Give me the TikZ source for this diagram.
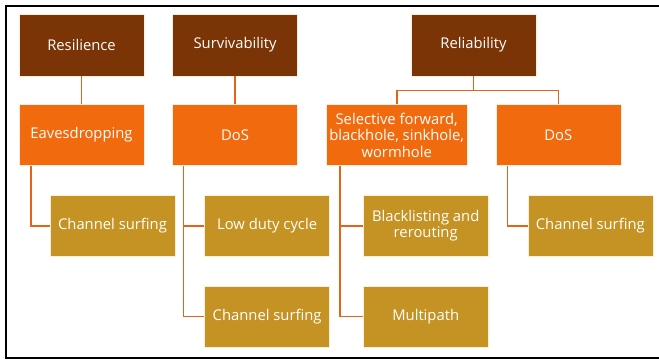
\documentclass[tikz,border=0pt]{standalone}
\usepackage{fontspec}
\setmainfont{Open Sans}
\usepackage{xcolor}
\usepackage{tikz}
\usetikzlibrary{positioning, calc}

\definecolor{topbrown}{HTML}{7A3406}
\definecolor{midorange}{HTML}{F26A0E}
\definecolor{lowgold}{HTML}{C59324}
\definecolor{linkorange}{HTML}{E0651A}

\begin{document}
\begin{tikzpicture}[
    x=1pt, y=1pt,
    font=\fontsize{14.8}{16.5}\selectfont,
    top/.style={rectangle, draw=white!85!orange, line width=0.6pt, fill=topbrown, text=white, align=center, minimum width=125pt, minimum height=62pt, inner sep=0.5pt},
    threat/.style={rectangle, draw=white!85!orange, line width=0.6pt, fill=midorange, text=white, align=center, minimum width=125pt, minimum height=61pt, inner sep=0.5pt},
    defence/.style={rectangle, draw=white!85!orange, line width=0.6pt, fill=lowgold, text=white, align=center, minimum width=125pt, minimum height=61pt, inner sep=0.5pt},
    link/.style={draw=linkorange, line width=1.6pt}
]

\useasboundingbox (0,0) rectangle (659,-360);
\draw[line width=2.5pt] (6,-6) rectangle (664,-358);

\node[top] (res) at (81.5,-45) {Resilience};
\node[top, right=28pt of res] (surv) {Survivability};

\node[threat, below=28pt of res] (eav) {Eavesdropping};
\node[threat, below=28pt of surv] (dos) {DoS};
\node[threat, right=28pt of dos, minimum width=141pt] (sel) {Selective forward,\\blackhole, sinkhole,\\wormhole};
\node[threat, right=28pt of sel] (dosb) {DoS};

\coordinate (relmid) at ($(sel.north)!.5!(dosb.north)$);
\node[top, above=28pt of relmid, xshift=-4pt] (rel) {Reliability};

\node[defence, below right=29pt and 31pt of eav.south west] (csa) {Channel surfing};
\node[defence, below right=29pt and 32pt of dos.south west] (ldc) {Low duty cycle};
\node[defence, below=29pt of ldc] (csb) {Channel surfing};
\node[defence, below right=29pt and 37pt of sel.south west] (blr) {Blacklisting and\\rerouting};
\node[defence, below=29pt of blr] (mpath) {Multipath};
\node[defence, below right=29pt and 32pt of dosb.south west] (csc) {Channel surfing};

% top level links
\draw[link] (res) -- (eav);
\draw[link] (surv) -- (dos);
\draw[link] (rel.south) -- ([yshift=14pt]rel.south |- sel.north) -| (sel.north);
\draw[link] (rel.south) -- ([yshift=14pt]rel.south |- dosb.north) -| (dosb.north);

% countermeasure links
\draw[link] ([xshift=12pt]eav.south west) |- (csa.west);
\draw[link] ([xshift=11pt]dos.south west) |- (ldc.west);
\draw[link] ([xshift=11pt]dos.south west) |- (csb.west);
\draw[link] ([xshift=14pt]sel.south west) |- (blr.west);
\draw[link] ([xshift=14pt]sel.south west) |- (mpath.west);
\draw[link] ([xshift=12pt]dosb.south west) |- (csc.west);

\end{tikzpicture}
\end{document}
